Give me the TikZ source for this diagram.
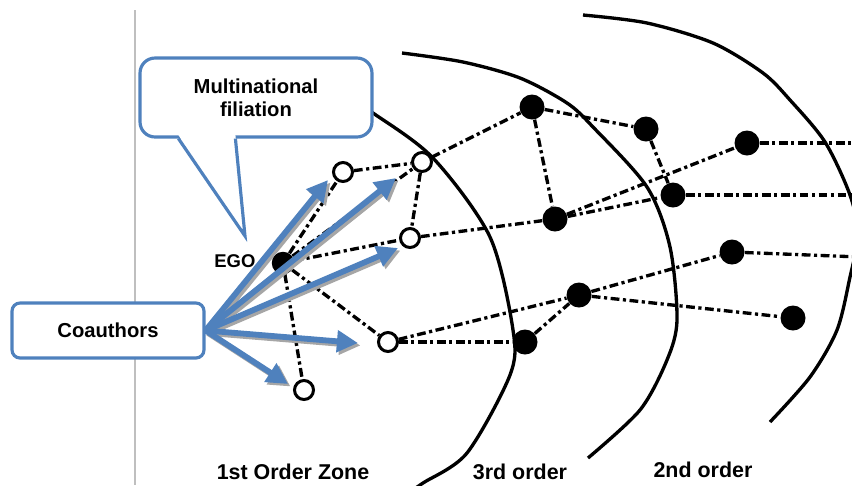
\documentclass[tikz,border=0pt]{standalone}
\usepackage{fontspec}
\setmainfont{Liberation Sans}
\usetikzlibrary{arrows.meta, positioning, backgrounds}
\definecolor{boxblue}{RGB}{79,129,189}

\begin{document}
\begin{tikzpicture}[x=0.02cm, y=-0.02cm,
  tie/.style={line width=1.9pt, dash pattern=on 5pt off 2pt on 1.8pt off 2pt},
  zone/.style={line width=1.9pt},
  coauth/.style={circle, draw, fill=white, line width=1.7pt, minimum size=0.38cm, inner sep=0pt},
  other/.style={circle, fill=black, minimum size=0.5cm, inner sep=0pt},
  bubble/.style={rectangle, draw=boxblue, fill=white, line width=1.8pt, align=center, font=\bfseries\fontsize{11.5}{13}\selectfont},
  zonetext/.style={font=\bfseries\fontsize{12.2}{14}\selectfont},
  push/.style={line width=3.3pt, boxblue, -{Triangle[length=12pt, width=12pt]}},
  pushshade/.style={line width=3.3pt, black!35, -{Triangle[length=12pt, width=12pt]}}]
  \useasboundingbox (0,0) rectangle (852,485);
  \clip (0,0) rectangle (852,485);

  \draw[black!25, line width=0.6pt] (135,10) -- (135,485);

  \draw[zone] plot[smooth] coordinates {(340,92) (373,113) (433,158) (490,237) (513,330) (510,375) (467,453) (423,483) (410,492)};
  \draw[zone] plot[smooth] coordinates {(402,53) (463,62) (520,78) (567,103) (593,127) (647,187) (670,247) (677,320) (667,360) (640,410) (588,458)};
  \draw[zone] plot[smooth] coordinates {(583,15) (647,23) (713,43) (763,73) (790,100) (825,142) (850,195) (858,235) (850,277) (837,330) (810,377) (770,422)};

  \node[other, minimum size=0.45cm] (ego) at (283,263) {};
  \node[coauth] (o1) at (343,172) {};
  \node[coauth] (o2) at (422,162) {};
  \node[coauth] (o3) at (410,238) {};
  \node[coauth] (o4) at (388,342) {};
  \node[coauth] (o5) at (304,390) {};
  \node[other] (b1) at (532,107) {};
  \node[other] (b2) at (555,219) {};
  \node[other] (b3) at (646,129) {};
  \node[other] (b4) at (673,195) {};
  \node[other] (b5) at (747,143) {};
  \node[other] (b6) at (732,252) {};
  \node[other] (b7) at (579,295) {};
  \node[other] (b8) at (525,342) {};
  \node[other] (b9) at (793,318) {};
  \coordinate (r5) at (860,143);
  \coordinate (r4) at (860,195);
  \coordinate (r6) at (860,257);

  \begin{scope}[on background layer]
    \foreach \a/\b in {ego/o1, ego/o2, ego/o3, ego/o4, ego/o5, o1/o2, o2/o3, o2/b1,
                       b1/b2, b1/b3, b3/b4, o3/b2, b2/b4, b2/b5, b4/r4, b5/r5, b6/r6,
                       o4/b8, o4/b7, b8/b7, b7/b6, b7/b9}
      \draw[tie] (\a) -- (\b);
  \end{scope}

  \node[font=\bfseries\fontsize{10.5}{12}\selectfont, anchor=west, inner sep=0pt] (egotxt) at (214,261) {EGO};

  \node[zonetext] (first) at (293,472) {1st Order Zone};
  \node[zonetext] (third) at (520,472) {3rd order};
  \node[zonetext] (second) at (703,470) {2nd order};

  \node[bubble, minimum width=4.64cm, minimum height=1.58cm, rounded corners=0.3cm] (filia) at (256,97.5) {Multinational\\filiation};
  \coordinate (filiatip) at (245,236);
  \fill[white] ([xshift=0.8cm, yshift=2pt]filia.south west) -- (filiatip) -- ([xshift=1.94cm, yshift=2pt]filia.south west) -- cycle;
  \draw[boxblue, line width=1.8pt] ([xshift=0.8cm]filia.south west) -- (filiatip) -- ([xshift=1.94cm]filia.south west);

  \node[bubble, minimum width=3.84cm, minimum height=1.1cm, rounded corners=0.16cm] (coau) at (108,330.5) {Coauthors};

  \coordinate (t1) at (328,180);
  \coordinate (t2) at (396,178);
  \coordinate (t3) at (398,248);
  \coordinate (t4) at (358,343);
  \coordinate (t5) at (288,384);
  \foreach \n in {1,...,5} {
    \draw[pushshade] ([shift={(1.4pt,-1.4pt)}]coau.east) -- ([shift={(1.4pt,-1.4pt)}]t\n);
    \draw[push] (coau.east) -- (t\n);
  }
\end{tikzpicture}
\end{document}
